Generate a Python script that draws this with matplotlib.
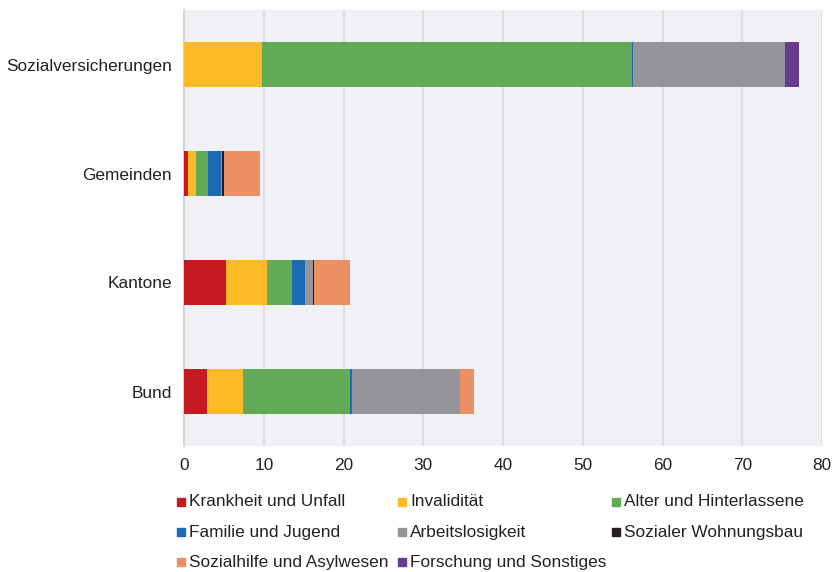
"""Stacked horizontal bars: Sozialausgaben nach Funktion und Träger."""

import matplotlib
matplotlib.use("Agg")
import matplotlib.pyplot as plt
from matplotlib.patches import Rectangle
import numpy as np

plt.rcParams["font.family"] = ["Liberation Sans", "DejaVu Sans"]

# data
traeger = ["Sozialversicherungen", "Gemeinden", "Kantone", "Bund"]
funktionen = [
    "Krankheit und Unfall",
    "Invalidität",
    "Alter und Hinterlassene",
    "Familie und Jugend",
    "Arbeitslosigkeit",
    "Sozialer Wohnungsbau",
    "Sozialhilfe und Asylwesen",
    "Forschung und Sonstiges",
]
krankheit = [0.0, 0.46, 5.32, 2.93]
invaliditaet = [9.8, 1.08, 5.07, 4.52]
alter = [46.4, 1.43, 3.18, 13.4]
familie = [0.1, 1.67, 1.63, 0.21]
arbeitslos = [19.0, 0.17, 0.92, 13.6]
wohnungsbau = [0.0, 0.2, 0.17, 0.0]
sozialhilfe = [0.0, 4.52, 4.52, 1.67]
forschung = [1.8, 0.0, 0.0, 0.0]
x_ticks = [0, 10, 20, 30, 40, 50, 60, 70, 80]

colors = ["#c41a22", "#fbbb28", "#62aa55", "#1a6db4",
          "#939598", "#231f20", "#ec9063", "#663c91"]

series = [krankheit, invaliditaet, alter, familie,
          arbeitslos, wohnungsbau, sozialhilfe, forschung]

fig = plt.figure(figsize=(8.34, 5.72), dpi=100)
ax = fig.add_axes([184 / 834, 1 - 446 / 572, 638 / 834, 436 / 572])
ax.set_facecolor("#f0f1f4")

y = np.arange(len(traeger))
left = np.zeros(len(traeger))
for vals, col in zip(series, colors):
    vals = np.array(vals)
    ax.barh(y, vals, left=left, height=0.41, color=col, zorder=3)
    left += vals

ax.set_ylim(3.5, -0.5)
ax.set_xlim(0, 80)
ax.set_xticks(x_ticks)
ax.set_yticks(y)
ax.set_yticklabels(traeger)
ax.tick_params(axis="both", length=0, labelsize=12.4, colors="#222222")
ax.tick_params(axis="x", pad=9)
ax.tick_params(axis="y", pad=8.5)

ax.grid(axis="x", color="#dcdde0", linewidth=1.5, zorder=0)
for side in ["top", "right", "bottom"]:
    ax.spines[side].set_visible(False)
ax.spines["left"].set_color("#d4d5d8")
ax.spines["left"].set_linewidth(1.5)

# legend, laid out row by row like the original
legend_pos = [
    (177, 502), (398, 502), (612, 502),
    (177, 532), (398, 532), (612, 532),
    (177, 562), (398, 562),
]
for name, col, (px, py) in zip(funktionen, colors, legend_pos):
    sq = 8
    fig.patches.append(Rectangle((px / 834, 1 - (py + sq / 2) / 572),
                                 sq / 834, sq / 572, color=col,
                                 transform=fig.transFigure, figure=fig))
    fig.text((px + sq + 4) / 834, 1 - py / 572, name, fontsize=12.4,
             color="#222222", va="center", ha="left")

fig.savefig("out.png", dpi=100)
